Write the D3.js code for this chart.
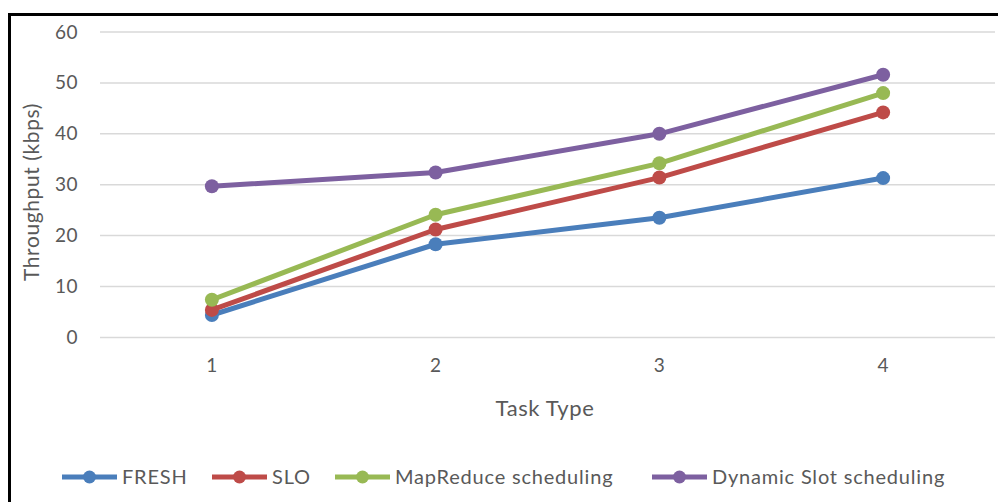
<!DOCTYPE html>
<html><head><meta charset="utf-8">
<script src="https://cdn.jsdelivr.net/npm/d3@7"></script>
<style>body{margin:0;background:#fff}svg{display:block}text{font-family:Lato,"Open Sans",sans-serif;fill:#595959}</style>
</head><body><svg id="c" width="998" height="502"></svg>
<script>
const categories = ["1","2","3","4"];
const seriesNames = ["FRESH","SLO","MapReduce scheduling","Dynamic Slot scheduling"];
const fresh = [4.4, 18.3, 23.5, 31.3];
const slo = [5.4, 21.2, 31.4, 44.2];
const mapreduce = [7.4, 24.1, 34.2, 48.0];
const dynamicSlot = [29.7, 32.4, 40.0, 51.6];
const yTicks = [0,10,20,30,40,50,60];
const colors = ["#4a7ebb","#be4b48","#98b954","#7d60a0"];
const allSeries = [fresh, slo, mapreduce, dynamicSlot];

const svg = d3.select("#c");
const pLeft=100, pRight=995, pTop=32, pBottom=337.4;
const x = d3.scaleBand().domain(categories).range([pLeft,pRight]);
const y = d3.scaleLinear().domain([0,60]).range([pBottom,pTop]);

// frame
svg.append("line").attr("x1",9).attr("x2",998).attr("y1",14.5).attr("y2",14.5).attr("stroke","#000").attr("stroke-width",3);
svg.append("line").attr("x1",9.5).attr("x2",9.5).attr("y1",13).attr("y2",502).attr("stroke","#000").attr("stroke-width",3);

// grid
svg.append("g").selectAll("line").data(yTicks).join("line")
  .attr("x1",pLeft).attr("x2",pRight).attr("y1",d=>y(d)).attr("y2",d=>y(d))
  .attr("stroke","#d9d9d9").attr("stroke-width",1.5);

// y axis labels
const yAxis = d3.axisLeft(y).tickValues(yTicks).tickSize(0).tickPadding(0);
const gy = svg.append("g").attr("transform","translate(78,0)").call(yAxis);
gy.select(".domain").remove();
gy.selectAll("text").style("font-size","19px").attr("fill","#595959").style("font-family","Lato,sans-serif").style("letter-spacing","0.5px");

// x axis labels
const xAxis = d3.axisBottom(x).tickSize(0).tickPadding(0);
const gx = svg.append("g").attr("transform","translate(0,358)").call(xAxis);
gx.select(".domain").remove();
gx.selectAll("text").style("font-size","19px").attr("fill","#595959").style("font-family","Lato,sans-serif");

// titles
svg.append("text").attr("transform","translate(39,192) rotate(-90)").attr("text-anchor","middle").style("font-size","21px").style("letter-spacing","0.6px").text("Throughput (kbps)");
svg.append("text").attr("x",545).attr("y",416).attr("text-anchor","middle").style("font-size","22px").style("letter-spacing","0.6px").text("Task Type");

// lines
const line = d3.line().x((d,i)=>x(categories[i])+x.bandwidth()/2).y(d=>y(d));
allSeries.forEach((s,k)=>{
  svg.append("path").datum(s).attr("d",line).attr("fill","none").attr("stroke",colors[k]).attr("stroke-width",5).attr("stroke-linejoin","round");
  svg.append("g").selectAll("circle").data(s).join("circle")
    .attr("cx",(d,i)=>x(categories[i])+x.bandwidth()/2).attr("cy",d=>y(d)).attr("r",7).attr("fill",colors[k]);
});

// legend
const legX = [62,212,335,652];
const lg = svg.append("g");
seriesNames.forEach((n,k)=>{
  const g = lg.append("g").attr("transform",`translate(${legX[k]},477)`);
  g.append("line").attr("x1",0).attr("x2",55).attr("y1",0).attr("y2",0).attr("stroke",colors[k]).attr("stroke-width",5);
  g.append("circle").attr("cx",27.5).attr("cy",0).attr("r",6.5).attr("fill",colors[k]);
  g.append("text").attr("x",60).attr("y",7).style("font-size","20px").style("letter-spacing","0.8px").text(n);
});
</script></body></html>
